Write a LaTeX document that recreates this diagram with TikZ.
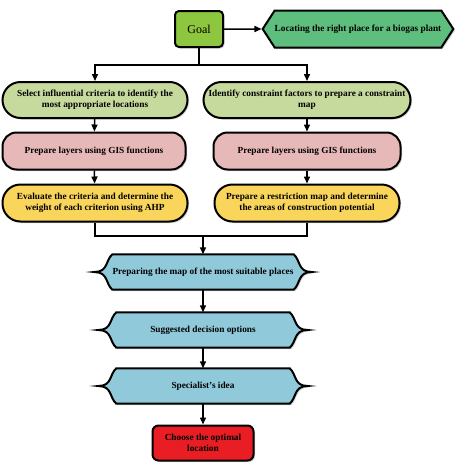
\documentclass[tikz,border=0pt]{standalone}
\usepackage{fontspec}
\setmainfont{Liberation Serif}
\usetikzlibrary{arrows.meta,shapes.symbols,shadows,backgrounds}

\definecolor{goalgreen}{RGB}{141,198,63}
\definecolor{hexgreen}{RGB}{94,190,126}
\definecolor{critgreen}{RGB}{198,218,158}
\definecolor{layerpink}{RGB}{230,184,183}
\definecolor{mapyellow}{RGB}{250,213,92}
\definecolor{optblue}{RGB}{144,202,218}
\definecolor{endred}{RGB}{232,30,36}

\begin{document}
\begin{tikzpicture}[x=1pt,y=1pt,
  box/.style={draw=black,line width=2pt,align=center,inner sep=1pt,
              font=\fontsize{9.3}{11}\selectfont\bfseries,
              drop shadow={shadow xshift=1.5pt,shadow yshift=-1.5pt,fill=black!35}},
  crit/.style={box,fill=critgreen,rounded corners=18pt,minimum height=36pt},
  lay/.style={box,fill=layerpink,rounded corners=14pt,minimum height=37pt},
  wgt/.style={box,fill=mapyellow,rounded corners=18pt,minimum height=37pt},
  brc/.style={align=center,font=\fontsize{9.3}{11}\selectfont\bfseries,
              minimum width=173pt,minimum height=35pt,inner sep=0pt},
  bracebox/.style={draw=black,line width=2pt,fill=optblue,
              drop shadow={shadow xshift=1.5pt,shadow yshift=-1.5pt,fill=black!35}},
  e/.style={-{Triangle[length=7pt,width=6pt]},line width=1.5pt},
  ln/.style={line width=1.5pt}]

\useasboundingbox (0,0) rectangle (455,-469);

% ---- goal row ----
\node[box,fill=goalgreen,rounded corners=4pt,minimum width=48pt,minimum height=36pt,
      font=\fontsize{12}{14}\selectfont] (goal) at (199,-29) {Goal};
\node[box,fill=hexgreen,shape=signal,signal to=west and east,signal pointer angle=114,
      minimum width=187pt,minimum height=37pt,inner xsep=0pt] (aim) at (358,-29)
      {Locating the right place for a biogas plant};

% ---- two branches ----
\node[crit,minimum width=185pt] (sel) at (95,-100)
      {Select influential criteria to identify the\\most appropriate locations};
\node[crit,minimum width=207pt,inner xsep=0pt] (cons) at (307,-100)
      {Identify constraint factors to prepare a constraint\\map};
\node[lay,minimum width=183pt] (gisl) at (94,-151) {Prepare layers using GIS functions};
\node[lay,minimum width=187pt] (gisr) at (307,-151) {Prepare layers using GIS functions};
\node[wgt,minimum width=185pt] (ahp) at (95,-203)
      {Evaluate the criteria and determine the\\weight of each criterion using AHP};
\node[wgt,minimum width=185pt] (restr) at (307,-203)
      {Prepare a restriction map and determine\\the areas of construction potential};

% ---- merged steps ----
\node[brc] (suit) at (203,-272) {Preparing the map of the most suitable places};
\node[brc] (opts) at (203,-330) {Suggested decision options};
\node[brc] (idea) at (203,-386) {Specialist's idea};
\node[box,fill=endred,rounded corners=6pt,minimum width=101pt,minimum height=35pt]
      (final) at (203,-443) {Choose the optimal\\location};

\begin{scope}[on background layer]
\foreach \n in {suit,opts,idea}
  \draw[bracebox] (\n.north west) -- (\n.north east)
    .. controls ([shift={(7pt,-6pt)}]\n.north east) and ([xshift=4pt]\n.east) .. ([xshift=18pt]\n.east)
    .. controls ([xshift=4pt]\n.east) and ([shift={(7pt,6pt)}]\n.south east) .. (\n.south east)
    -- (\n.south west)
    .. controls ([shift={(-7pt,6pt)}]\n.south west) and ([xshift=-4pt]\n.west) .. ([xshift=-18pt]\n.west)
    .. controls ([xshift=-4pt]\n.west) and ([shift={(-7pt,-6pt)}]\n.north west) .. cycle;
\end{scope}

\coordinate (fork) at (199,-65);
\coordinate (join) at (203,-236);

\draw[e] (goal) -- (aim);
\draw[ln] (goal) -- (fork);
\draw[e] (fork) -| (sel);
\draw[e] (fork) -| (cons);
\draw[e] (sel) -- (gisl);
\draw[e] (cons) -- (gisr);
\draw[e] (gisl) -- (ahp);
\draw[e] (gisr) -- (restr);
\draw[ln] (ahp) |- (join) -| (restr);
\draw[e] (join) -- (suit);
\draw[e] (suit) -- (opts);
\draw[e] (opts) -- (idea);
\draw[e] (idea) -- (final);
\end{tikzpicture}
\end{document}
